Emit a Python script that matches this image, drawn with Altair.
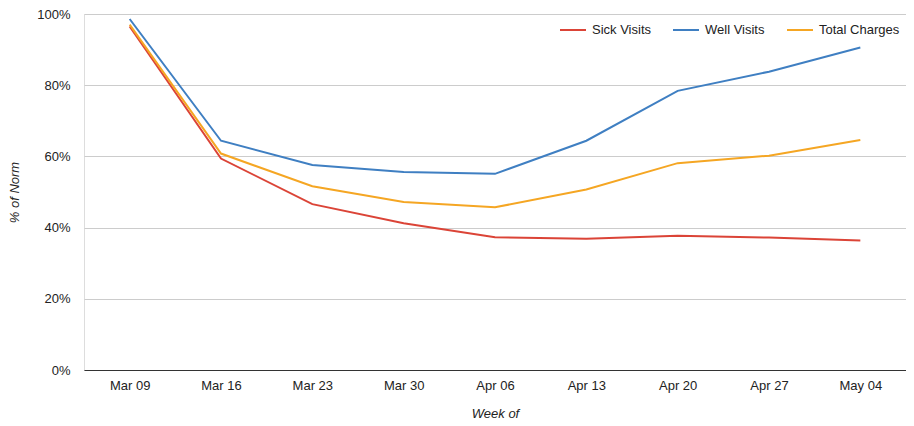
import altair as alt
import pandas as pd

weeks = ["Mar 09", "Mar 16", "Mar 23", "Mar 30", "Apr 06", "Apr 13", "Apr 20", "Apr 27", "May 04"]
sick = [96.5, 59.4, 46.6, 41.2, 37.3, 36.9, 37.7, 37.2, 36.4]
well = [98.6, 64.4, 57.6, 55.6, 55.1, 64.4, 78.4, 83.8, 90.6]
total = [97.0, 60.8, 51.6, 47.2, 45.7, 50.7, 58.1, 60.2, 64.6]
series = ["Sick Visits", "Well Visits", "Total Charges"]
colors = ["#db4437", "#3f7fc2", "#f5a623"]

rows = []
for name, vals in zip(series, [sick, well, total]):
    for w, v in zip(weeks, vals):
        rows.append({"week": w, "series": name, "value": v / 100})
df = pd.DataFrame(rows)

chart = alt.Chart(df).mark_line(strokeWidth=2).encode(
    x=alt.X(
        "week:N",
        sort=weeks,
        scale=alt.Scale(padding=0.5),
        axis=alt.Axis(
            title="Week of",
            titleFontStyle="italic",
            titleFontWeight="normal",
            titleFontSize=13,
            titleColor="#222222",
            titlePadding=15,
            labelAngle=0,
            labelFontSize=13,
            labelColor="#222222",
            labelPadding=9,
            ticks=False,
            grid=False,
            domainColor="#333333",
            domainWidth=1,
        ),
    ),
    y=alt.Y(
        "value:Q",
        scale=alt.Scale(domain=[0, 1], nice=False),
        axis=alt.Axis(
            title="% of Norm",
            format=".0%",
            values=[0, 0.2, 0.4, 0.6, 0.8, 1.0],
            titleFontStyle="italic",
            titleFontWeight="normal",
            titleFontSize=13,
            titleColor="#222222",
            titlePadding=15,
            labelFontSize=13,
            labelColor="#222222",
            labelPadding=14,
            ticks=False,
            domain=False,
            gridColor="#cccccc",
        ),
    ),
    color=alt.Color(
        "series:N",
        sort=series,
        scale=alt.Scale(domain=series, range=colors),
        legend=alt.Legend(
            title=None,
            orient="none",
            legendX=475,
            legendY=2,
            direction="horizontal",
            symbolType="stroke",
            symbolSize=676,
            symbolStrokeWidth=2,
            labelFontSize=13,
            labelColor="#222222",
            labelOffset=5,
            columnPadding=18,
            padding=0,
        ),
    ),
).properties(
    width=822,
    height=356,
    autosize=alt.AutoSizeParams(type="none"),
    padding={"left": 76, "top": 6, "right": 0, "bottom": 53},
).configure_view(stroke=None).configure(font="Liberation Sans")

chart.save("out.html", embed_options={"renderer": "svg", "actions": False})
